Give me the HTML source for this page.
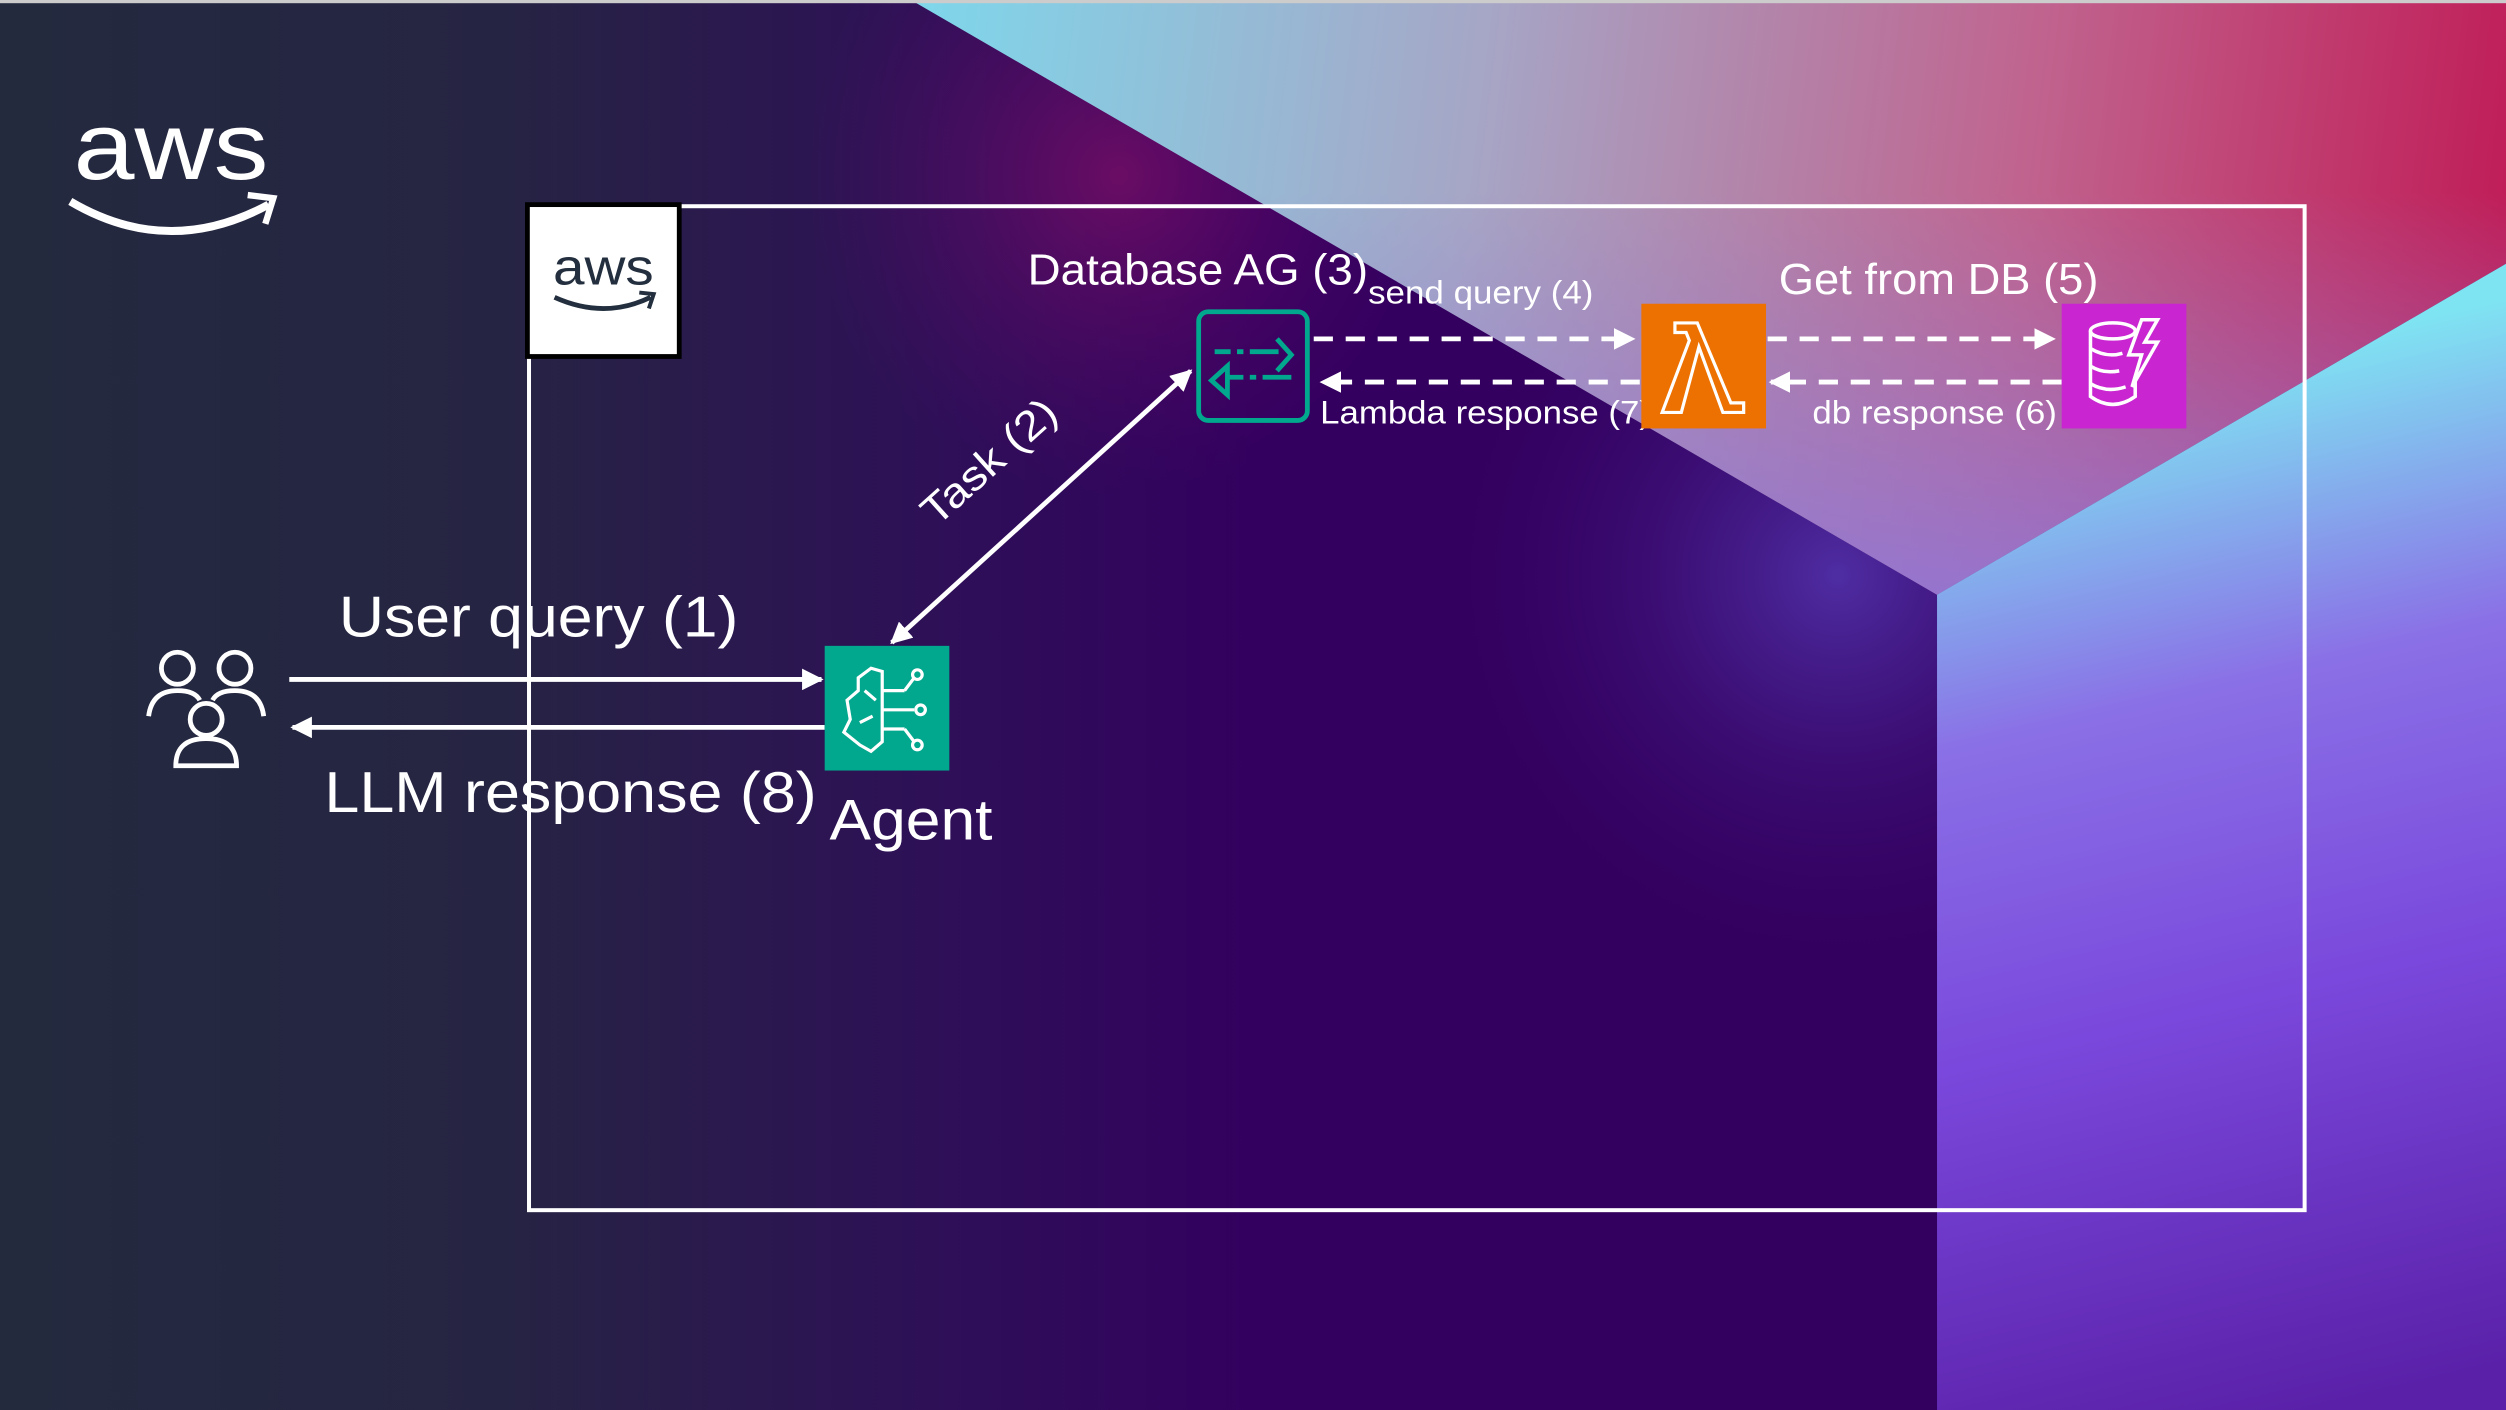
<!DOCTYPE html>
<html><head><meta charset="utf-8"><style>
html,body{margin:0;padding:0;background:#232a3e;}
svg{display:block;}
text{font-family:"Liberation Sans",Arial,sans-serif;fill:#fff;}
</style></head><body>
<svg width="2506" height="1410" viewBox="0 0 1568 882" preserveAspectRatio="none" xmlns="http://www.w3.org/2000/svg">
<defs>
<linearGradient id="bg" x1="0" y1="0" x2="1" y2="0">
<stop offset="0" stop-color="#232a3e"/><stop offset="0.2" stop-color="#262443"/><stop offset="0.38" stop-color="#2e0f58"/><stop offset="0.5" stop-color="#33005f"/><stop offset="1" stop-color="#33005f"/>
</linearGradient>
<radialGradient id="mag" cx="700" cy="110" r="200" gradientUnits="userSpaceOnUse">
<stop offset="0" stop-color="#90106a" stop-opacity="0.6"/><stop offset="1" stop-color="#5a0a6a" stop-opacity="0"/>
</radialGradient>
<radialGradient id="glow" cx="1150" cy="360" r="260" gradientUnits="userSpaceOnUse">
<stop offset="0" stop-color="#5a40c0" stop-opacity="0.7"/><stop offset="1" stop-color="#33005f" stop-opacity="0"/>
</radialGradient>
<linearGradient id="top" x1="580" y1="0" x2="1568" y2="120" gradientUnits="userSpaceOnUse">
<stop offset="0" stop-color="#7fd6ea"/><stop offset="0.35" stop-color="#a6a6c6"/><stop offset="0.7" stop-color="#c0638e"/><stop offset="1" stop-color="#c01e58"/>
</linearGradient>
<linearGradient id="topv" x1="0" y1="120" x2="0" y2="380" gradientUnits="userSpaceOnUse">
<stop offset="0" stop-color="#9080d0" stop-opacity="0"/><stop offset="1" stop-color="#8a78e0" stop-opacity="0.8"/>
</linearGradient>
<linearGradient id="right" x1="1300" y1="250" x2="1450" y2="882" gradientUnits="userSpaceOnUse">
<stop offset="0" stop-color="#7fe4f2"/><stop offset="0.3" stop-color="#8a70e6"/><stop offset="0.6" stop-color="#7a48dc"/><stop offset="1" stop-color="#5a20a8"/>
</linearGradient>
<marker id="ah" viewBox="0 0 10 10" refX="9" refY="5" markerWidth="4.5" markerHeight="4.5" orient="auto-start-reverse"><path d="M0,0 L10,5 L0,10 z" fill="#fff"/></marker>
</defs>
<rect width="1568" height="882" fill="url(#bg)"/>
<rect width="1568" height="882" fill="url(#mag)"/>
<rect x="880" y="100" width="332" height="520" fill="url(#glow)"/>
<polygon points="570,0 1568,0 1568,165 1212,372" fill="url(#top)"/>
<polygon points="570,0 1568,0 1568,165 1212,372" fill="url(#topv)"/>
<polygon points="1212,372 1568,165 1568,882 1212,882" fill="url(#right)"/>
<rect x="0" y="0" width="1568" height="2" fill="#ccc"/>

<!-- aws logo top-left -->
<text x="46" y="112" font-size="60" textLength="122" lengthAdjust="spacingAndGlyphs">aws</text>
<path d="M44,126 Q105,162 168,128" stroke="#fff" stroke-width="5" fill="none"/>
<path d="M155,122 L171,124 L166,140" stroke="#fff" stroke-width="4" fill="none"/>

<!-- main box -->
<rect x="331" y="129" width="1111" height="628" fill="none" stroke="#fff" stroke-width="2.5"/>
<rect x="330" y="128" width="95" height="95" fill="#fff" stroke="#000" stroke-width="3"/>
<text x="346" y="178" font-size="32" style="fill:#232f3e" textLength="63" lengthAdjust="spacingAndGlyphs">aws</text>
<path d="M347,186 Q378,200 407,186" stroke="#232f3e" stroke-width="3" fill="none"/>
<path d="M400,183 L409,184 L406,193" stroke="#232f3e" stroke-width="2.5" fill="none"/>

<!-- users icon -->
<g stroke="#fff" stroke-width="3" fill="none">
<circle cx="111" cy="418" r="10"/><circle cx="147" cy="418" r="10"/><circle cx="129" cy="450" r="10"/>
<path d="M93,448 Q95,432 111,432 Q122,432 125,438"/><path d="M165,448 Q163,432 147,432 Q136,432 133,438"/>
<path d="M110,479 Q110,462 129,462 Q148,462 148,479 Z"/>
</g>

<!-- user query arrows -->
<line x1="181" y1="425" x2="514" y2="425" stroke="#fff" stroke-width="3" marker-end="url(#ah)"/>
<line x1="516" y1="455" x2="183" y2="455" stroke="#fff" stroke-width="3" marker-end="url(#ah)"/>
<text x="212" y="398" font-size="36" textLength="250" lengthAdjust="spacingAndGlyphs">User query (1)</text>
<text x="203" y="508" font-size="36" textLength="308" lengthAdjust="spacingAndGlyphs">LLM response (8)</text>

<!-- agent -->
<rect x="516" y="404" width="78" height="78" fill="#01a88d"/>
<g stroke="#fff" stroke-width="2" fill="none">
<path d="M545,418 L537,424 L537,432 L530,438 L532,450 L528,458 L538,466 L545,470 L552,464 L552,420 Z"/>
<path d="M541,432 L548,438 M538,452 L546,448"/>
<path d="M552,432 L566,432 M552,444 L572,444 M552,456 L566,456 M566,432 L572,424 M566,456 L572,464"/>
<circle cx="574" cy="422" r="3"/><circle cx="576" cy="444" r="3"/><circle cx="574" cy="466" r="3"/>
</g>
<text x="519" y="525" font-size="36" textLength="102" lengthAdjust="spacingAndGlyphs">Agent</text>

<!-- task -->
<line x1="558" y1="402" x2="745" y2="232" stroke="#fff" stroke-width="3" marker-end="url(#ah)" marker-start="url(#ah)"/>
<text x="0" y="0" font-size="26" transform="translate(586,330) rotate(-42)" textLength="104" lengthAdjust="spacingAndGlyphs">Task (2)</text>

<!-- database AG -->
<rect x="750" y="195" width="68" height="68" rx="6" fill="none" stroke="#01a88d" stroke-width="3"/>
<g stroke="#01a88d" stroke-width="3" fill="none">
<path d="M760,220 L770,220 M774,220 L778,220 M782,220 L800,220"/>
<path d="M799,212 L808,222 L799,232"/>
<path d="M808,236 L790,236 M786,236 L782,236 M778,236 L768,236"/>
<path d="M768,229 L758,238 L768,247 Z"/>
</g>
<text x="643" y="178" font-size="27" textLength="213" lengthAdjust="spacingAndGlyphs">Database AG (3)</text>

<!-- dashed arrows -->
<g stroke="#fff" stroke-width="3" stroke-dasharray="12,8">
<line x1="822" y1="212" x2="1022" y2="212" marker-end="url(#ah)"/>
<line x1="1026" y1="239" x2="827" y2="239" marker-end="url(#ah)"/>
<line x1="1106" y1="212" x2="1285" y2="212" marker-end="url(#ah)"/>
<line x1="1290" y1="239" x2="1108" y2="239" marker-end="url(#ah)"/>
</g>
<text x="856" y="190" font-size="20" textLength="141" lengthAdjust="spacingAndGlyphs">send query (4)</text>
<text x="826" y="265" font-size="20" textLength="207" lengthAdjust="spacingAndGlyphs">Lambda response (7)</text>
<text x="1113" y="184" font-size="27" textLength="200" lengthAdjust="spacingAndGlyphs">Get from DB (5)</text>
<text x="1134" y="265" font-size="20" textLength="153" lengthAdjust="spacingAndGlyphs">db response (6)</text>

<!-- lambda -->
<rect x="1027" y="190" width="78" height="78" fill="#ed7100"/>
<path d="M1048,202 L1062,202 L1083,252 L1091,252 L1091,258 L1078,258 L1063,217 L1052,258 L1040,258 L1057,213 L1055,208 L1048,208 Z" fill="none" stroke="#fff" stroke-width="2"/>

<!-- dynamodb -->
<rect x="1290" y="190" width="78" height="78" fill="#c925d1"/>
<g stroke="#fff" stroke-width="2.2" fill="none">
<ellipse cx="1322" cy="207" rx="14" ry="5"/>
<path d="M1308,207 L1308,248 Q1322,258 1336,248 L1336,237"/>
<path d="M1308,218 Q1318,224 1328,221 M1308,229 Q1316,234 1326,232 M1308,240 Q1318,246 1330,242"/>
<path d="M1340,200 L1332,222 L1340,222 L1334,242 L1350,214 L1342,214 L1350,200 Z"/>
</g>
</svg>
</body></html>
